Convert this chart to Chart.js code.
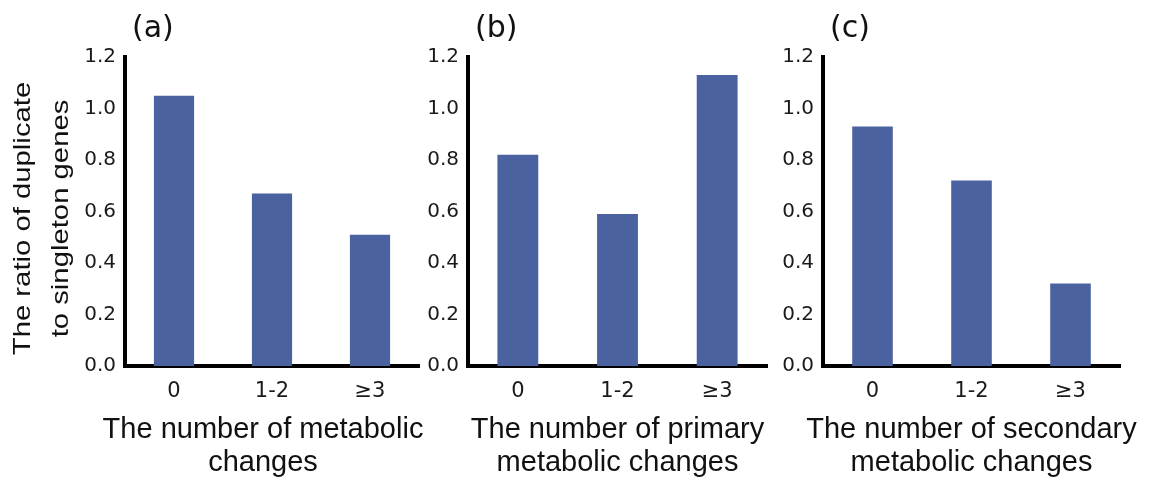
<!DOCTYPE html>
<html>
<head>
<meta charset="utf-8">
<script src="https://cdn.jsdelivr.net/npm/chart.js@4.4.1/dist/chart.umd.min.js"></script>
<style>
  html, body { margin: 0; padding: 0; background: #fff; }
  #wrap { position: relative; width: 1150px; height: 477px; }
  canvas { position: absolute; top: 0; }
</style>
</head>
<body>
<div id="wrap">
  <canvas id="panel-a" style="left:0" width="425" height="477"></canvas>
  <canvas id="panel-b" style="left:425px" width="350" height="477"></canvas>
  <canvas id="panel-c" style="left:775px" width="375" height="477"></canvas>
</div>
<script>
/* ── data ── */
const categories = ['0', '1-2', '≥3'];
const yTicks = [0, 0.2, 0.4, 0.6, 0.8, 1.0, 1.2];
const ratioAll = [1.05, 0.67, 0.51];
const ratioPrimary = [0.82, 0.59, 1.13];
const ratioSecondary = [0.93, 0.72, 0.32];
const panelLetters = ['(a)', '(b)', '(c)'];
const xTitleA = ['The number of metabolic', 'changes'];
const xTitleB = ['The number of primary', 'metabolic changes'];
const xTitleC = ['The number of secondary', 'metabolic changes'];
const yTitle = ['The ratio of duplicate', 'to singleton genes'];

const BAR = '#4a62a0';
const INK = '#111';

/* Titles drawn by hand: Chart.js squeezes scale titles to the axis width. */
const captions = {
  id: 'captions',
  afterDraw(chart, args, o) {
    const { ctx, chartArea: ca } = chart;
    ctx.save();
    ctx.fillStyle = INK;
    ctx.textBaseline = 'middle';
    ctx.textAlign = 'left';
    ctx.font = '30px "DejaVu Sans"';
    ctx.fillText(o.letter, ca.left + 7, 29);

    ctx.textAlign = 'center';
    ctx.font = '29px "Liberation Sans"';
    const cx = (ca.left + ca.right) / 2 + (o.shift || 0);
    o.xTitle.forEach((t, i) => ctx.fillText(t, cx, ca.bottom + 64 + i * 33));

    if (o.yTitle) {
      ctx.font = '24px "Liberation Sans"';
      ctx.textBaseline = 'alphabetic';
      const cy = (ca.top + ca.bottom) / 2 + 7;
      o.yTitle.forEach((t, i) => {
        ctx.save();
        ctx.translate(30 + i * 38, cy);
        ctx.rotate(-Math.PI / 2);
        ctx.scale(1.22, 1);
        ctx.fillText(t, 0, 0);
        ctx.restore();
      });
    }
    ctx.restore();
  }
};

function makePanel(id, values, cap, yWidth, padRight) {
  new Chart(document.getElementById(id), {
    type: 'bar',
    data: { labels: categories, datasets: [{ data: values, backgroundColor: BAR, borderWidth: 0, barPercentage: 0.41, categoryPercentage: 1 }] },
    options: {
      responsive: false, animation: false,
      layout: { padding: { left: 0, right: padRight, top: 57, bottom: 0 } },
      plugins: { legend: { display: false }, tooltip: { enabled: false }, captions: cap },
      scales: {
        x: {
          grid: { display: false, drawTicks: false },
          border: { display: true, color: '#000', width: 4 },
          ticks: { color: '#1a1a1a', font: { family: 'DejaVu Sans', size: 21 }, padding: 13 },
          afterFit: s => { s.height = 111; }
        },
        y: {
          min: 0, max: 1.2,
          grid: { display: false, drawTicks: false },
          border: { display: true, color: '#000', width: 4 },
          ticks: { color: '#1a1a1a', font: { family: 'DejaVu Sans', size: 20 }, padding: 9, callback: v => v.toFixed(1) },
          afterBuildTicks: s => { s.ticks = yTicks.map(v => ({ value: v })); },
          afterFit: s => { s.width = yWidth; }
        }
      }
    },
    plugins: [captions]
  });
}

makePanel('panel-a', ratioAll, { letter: panelLetters[0], xTitle: xTitleA, yTitle: yTitle, shift: -9 }, 125, 6);
makePanel('panel-b', ratioPrimary, { letter: panelLetters[1], xTitle: xTitleB, shift: 0 }, 43, 8);
makePanel('panel-c', ratioSecondary, { letter: panelLetters[2], xTitle: xTitleC, shift: 0 }, 48, 30);
</script>
</body>
</html>
